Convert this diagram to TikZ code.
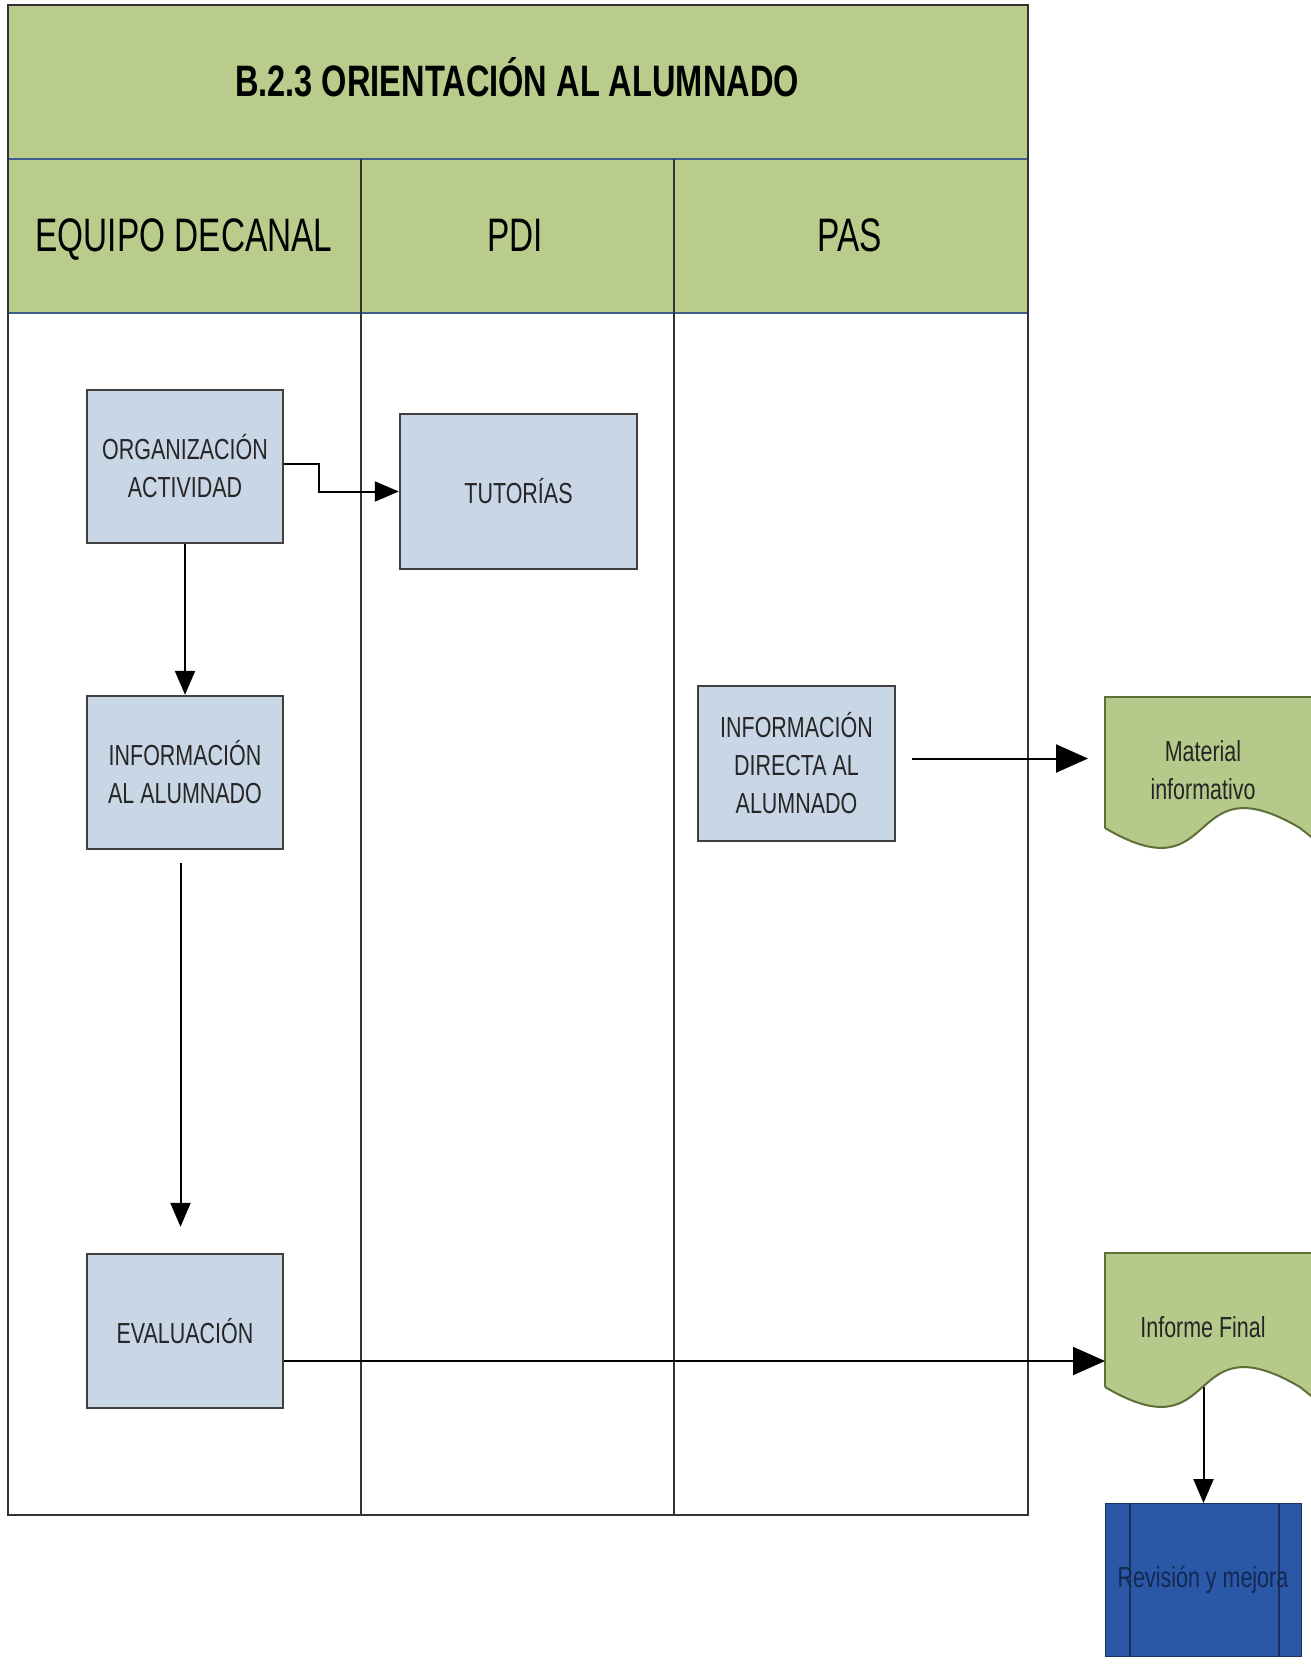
\documentclass[tikz,border=0pt]{standalone}
\usepackage{fontspec}
\setmainfont{Liberation Sans}
\newfontfamily\nf[FakeStretch=0.74]{Liberation Sans}
\newfontfamily\hf[FakeStretch=0.71]{Liberation Sans}
\usetikzlibrary{arrows.meta,calc}
\definecolor{bandgreen}{HTML}{B9CC8B}
\definecolor{docgreen}{HTML}{B5C98A}
\definecolor{docedge}{HTML}{5E7035}
\definecolor{boxfill}{HTML}{C9D6E6}
\definecolor{boxedge}{HTML}{404040}
\definecolor{bandline}{HTML}{3F5F8F}
\definecolor{revfill}{HTML}{2A58A6}
\definecolor{revedge}{HTML}{1A2F5C}
\definecolor{revtext}{HTML}{152850}
\tikzset{
  procbox/.style={draw=boxedge, line width=2.4pt, fill=boxfill, minimum width=196pt,
    inner sep=0pt, align=center, text=black!85,
    font=\nf\fontsize{29}{38}\selectfont},
  arr/.style={line width=2pt, -{Triangle[length=24pt,width=20pt]}},
  arrbig/.style={line width=2pt, -{Triangle[length=32pt,width=28pt]}},
  frameline/.style={line width=1.5pt, draw=black!80},
  docbox/.style={minimum width=195pt, inner sep=0pt, anchor=north west},
  doctext/.style={align=center, text=black!85, font=\nf\fontsize{29}{38}\selectfont}
}
\begin{document}
\begin{tikzpicture}[x=1pt,y=-1pt]
\useasboundingbox (0,0) rectangle (1310,1664);
\fill[white] (0,0) rectangle (1310,1664);
% bands
\fill[bandgreen] (8,5) rectangle (1028,313);
\draw[line width=1.5pt, draw=bandline] (8,159) -- (1028,159);
\draw[line width=1.5pt, draw=bandline] (8,313) -- (1028,313);
% lanes and frame
\draw[frameline] (361,159) -- (361,1515);
\draw[frameline] (674,159) -- (674,1515);
\draw[frameline] (8,5) rectangle (1028,1515);
% title and headers
\node[anchor=base] (title) at (517,97) {\nf\bfseries\fontsize{44}{50}\selectfont B.2.3 ORIENTACIÓN AL ALUMNADO};
\node[anchor=base] (h1) at (184,251) {\hf\fontsize{47}{52}\selectfont EQUIPO DECANAL};
\node[anchor=base] (h2) at (515,251) {\hf\fontsize{47}{52}\selectfont PDI};
\node[anchor=base] (h3) at (850,251) {\hf\fontsize{47}{52}\selectfont PAS};
% process boxes
\node[procbox, minimum height=153pt] (org) at (185,466.5) {ORGANIZACIÓN\\ACTIVIDAD};
\node[procbox, minimum width=237pt, minimum height=155pt] (tut) at (518.5,491.5) {TUTORÍAS};
\node[procbox, minimum height=153pt] (infoal) at (185,772.5) {INFORMACIÓN\\AL ALUMNADO};
\node[procbox, minimum width=197pt, minimum height=155pt] (dir) at (796.5,763.5) {INFORMACIÓN\\DIRECTA AL\\ALUMNADO};
\node[procbox, minimum height=154pt] (eval) at (185,1331) {EVALUACIÓN};
% document shapes
\node[docbox, minimum height=131pt] (mat) at (1105,697) {};
\fill[docgreen] (1105,697) -- (1315,697) -- (1315,840) -- (1300,828)
  .. controls (1183,759) and (1222,897) .. (1105,828) -- cycle;
\draw[docedge, line width=2pt] (1105,828) -- (1105,697) -- (1315,697);
\draw[docedge, line width=2pt] (1105,828) .. controls (1222,897) and (1183,759) .. (1300,828) -- (1315,840);
\node[doctext] (mattext) at (1203,770) {Material\\informativo};

\node[docbox, minimum height=134pt] (inf) at (1105,1253) {};
\fill[docgreen] (1105,1253) -- (1315,1253) -- (1315,1399) -- (1300,1387)
  .. controls (1183,1318) and (1222,1456) .. (1105,1387) -- cycle;
\draw[docedge, line width=2pt] (1105,1387) -- (1105,1253) -- (1315,1253);
\draw[docedge, line width=2pt] (1105,1387) .. controls (1222,1456) and (1183,1318) .. (1300,1387) -- (1315,1399);
\node[doctext] (inftext) at (1203,1327) {Informe Final};
% revision box
\node[draw=revedge, line width=1pt, fill=revfill, minimum width=196pt, minimum height=153pt,
  inner sep=0pt, anchor=north west] (rev) at (1105,1503) {};
\draw[revedge, line width=2.2pt] (1130,1503) -- (1130,1656);
\draw[revedge, line width=2.2pt] (1279,1503) -- (1279,1656);
\node[text=revtext, font=\nf\fontsize{29}{38}\selectfont] (revtext) at (1203,1580) {Revisión y mejora};
% connectors
\draw[arr] ([yshift=2.5pt]org.east) -- ++(35,0) |- (tut.west);
\draw[arr] (org.south) -- (infoal.north);
\draw[arr, shorten <=13pt, shorten >=26pt] ([xshift=-4.5pt]infoal.south) -- ([xshift=-4.5pt]eval.north);
\coordinate (dirout) at ([yshift=5pt]dir.east);
\draw[arrbig, shorten <=16pt, shorten >=17pt] (dirout) -- (dirout -| mat.west);
\coordinate (evout) at ([yshift=-30pt]eval.east);
\draw[arrbig] (evout) -- (evout -| inf.west);
\draw[arr] (rev.north |- inf.south) -- (rev.north);
\end{tikzpicture}
\end{document}
